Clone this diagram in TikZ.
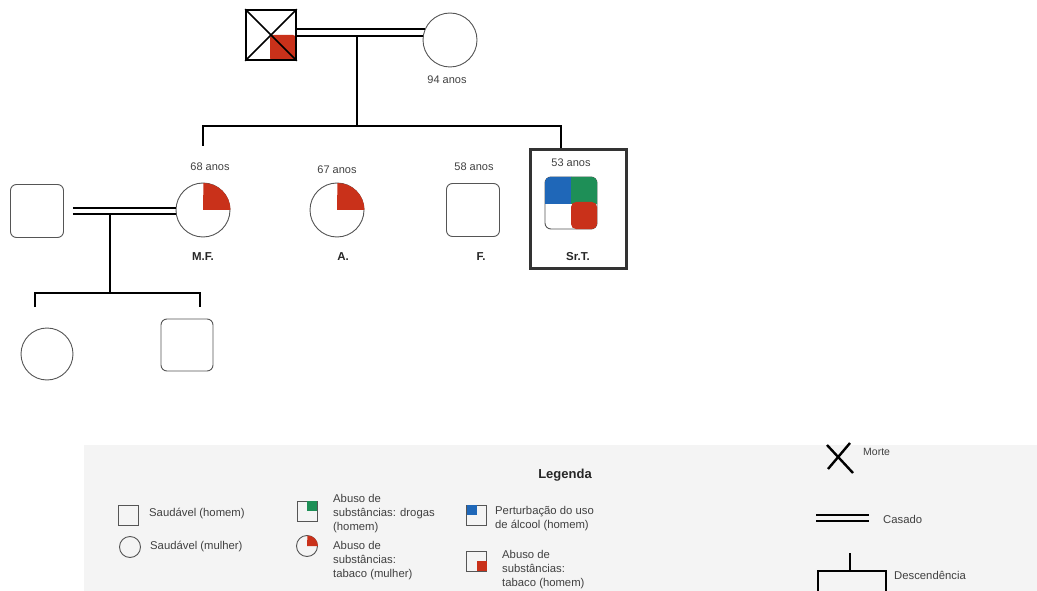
\documentclass[tikz,border=0pt]{standalone}
\usepackage{fontspec}
\setmainfont{Liberation Sans}
\usetikzlibrary{calc}
\definecolor{rd}{HTML}{C9311A}
\definecolor{bl}{HTML}{1F67B8}
\definecolor{gr}{HTML}{1E8F57}
\definecolor{lg}{HTML}{F4F4F4}
\definecolor{ol}{HTML}{555555}
\definecolor{tx}{HTML}{404040}
\begin{document}
\begin{tikzpicture}[x=1pt,y=-1pt,
  male/.style={draw=ol,line width=0.9pt,rounded corners=6pt,minimum size=53pt,inner sep=0pt},
  female/.style={circle,draw=ol,line width=0.9pt,minimum size=54pt,inner sep=0pt},
  age/.style={font=\fontsize{11}{13}\selectfont,text=tx},
  pname/.style={font=\bfseries\fontsize{11.5}{13}\selectfont,text=black!85},
  bond/.style={line width=2pt},
  desc/.style={line width=2pt},
  thin/.style={line width=1.2pt},
  leg/.style={font=\fontsize{11.3}{14}\selectfont,text=tx,align=left,anchor=west,inner sep=0pt},
  lsq/.style={draw=ol,line width=0.9pt,minimum size=20pt,inner sep=0pt},
  lci/.style={circle,draw=ol,line width=0.9pt,minimum size=21pt,inner sep=0pt},
]
\useasboundingbox (0,0) rectangle (1037,591);

% ---------- grandparents ----------
\fill[rd,rounded corners=3pt] (270,35) rectangle (296,61);
\node[draw=black,line width=1.6pt,minimum size=50pt,inner sep=0pt] (gf) at (271,35) {};
\draw[line width=1.6pt] (gf.north west) -- (gf.south east);
\draw[line width=1.6pt] (gf.north east) -- (gf.south west);
\node[female] (gm) at (450,40) {};
\node[age] (gmage) at (447,80) {94 anos};
\draw[bond] (gf.east |- gm.156) -- (gm.156);
\draw[bond] (gf.east |- gm.171) -- (gm.171);
\coordinate (gd) at (357,36);
\coordinate (sib) at (357,126);
\draw[desc] (gd) -- (sib);

% ---------- children ----------
\node[female] (mf) at (203,210) {};
\fill[rd] (mf.center) -- (mf.east) arc[start angle=0,end angle=90,radius=27pt] -- cycle;
\node[age] at (210,167) {68 anos};
\node[pname] (mfn) at (203,257) {M.F.};

\node[female] (a) at (337,210) {};
\fill[rd] (a.center) -- (a.east) arc[start angle=0,end angle=90,radius=27pt] -- cycle;
\node[age] at (337,170) {67 anos};
\node[pname] (an) at (343,257) {A.};

\node[male] (f) at (473,210) {};
\node[age] at (474,167) {58 anos};
\node[pname] (fn) at (481,257) {F.};

\node[male,minimum size=52pt] (srt) at (571,203) {};
\fill[bl] (545,204) -- (545,182) arc[start angle=180,end angle=90,radius=5pt] -- (571.5,177) -- (571.5,204) -- cycle;
\fill[gr] (571,177) -- (592,177) arc[start angle=90,end angle=0,radius=5pt] -- (597,204) -- (571,204) -- cycle;
\fill[rd,rounded corners=5pt] (571,202) rectangle (597,229);
\node[age] at (571,163) {53 anos};
\node[pname] (srtn) at (578,257) {Sr.T.};
\node[draw=black!80,line width=3pt,minimum width=96pt,minimum height=119pt,inner sep=0pt] (frame) at (578.5,209) {};

\coordinate (dl) at (203,146);
\coordinate (dr) at (561,126);
\draw[desc] (dl) -- (dl |- sib) -- (dr) -- (frame.north -| dr);

% ---------- M.F. family ----------
\node[male] (sp) at (37,211) {};
\draw[bond] ([xshift=9pt,yshift=3pt]sp.east) -- ([yshift=2pt]mf.west);
\draw[bond] ([xshift=9pt,yshift=-3pt]sp.east) -- ([yshift=-4pt]mf.west);
\coordinate (md) at (110,214);
\coordinate (mh) at (110,293);
\draw[desc] (md) -- (mh);
\node[female,minimum size=52pt] (c1) at (47,354) {};
\node[male,minimum size=52pt] (c2) at (187,345) {};
\coordinate (c1d) at (35,307);
\coordinate (c2d) at (200,307);
\draw[thin] (c1d) -- (c1d |- mh) -- (c2d |- mh) -- (c2d);

% ---------- legend ----------
\node[fill=lg,minimum width=953pt,minimum height=146pt,anchor=north west,inner sep=0pt] (legbox) at (84,445) {};
\node[font=\bfseries\fontsize{13}{15}\selectfont,text=black!85] (legt) at (565,475) {Legenda};

\node[lsq] (l1) at (128.5,515.5) {};
\node[leg] at (149,514) {Saudável (homem)};
\node[lci] (l2) at (130,547) {};
\node[leg] at (150,547) {Saudável (mulher)};

\node[lsq] (l3) at (307,511) {};
\fill[gr] (307,501) rectangle (317,511);
\node[leg] at (333,514) {Abuso de\\substâncias: drogas\\(homem)};
\node[lci] (l4) at (307,546) {};
\fill[rd] (l4.center) -- (l4.east) arc[start angle=0,end angle=90,radius=10.5pt] -- cycle;
\node[leg] at (333,561) {Abuso de\\substâncias:\\tabaco (mulher)};

\node[lsq] (l5) at (476.5,515) {};
\fill[bl] (466.5,505) rectangle (477,515);
\node[leg] at (495,519) {Perturbação do uso\\de álcool (homem)};
\node[lsq] (l6) at (476.5,561) {};
\fill[rd] (477,561) rectangle (486.5,571);
\node[leg] at (502,570) {Abuso de\\substâncias:\\tabaco (homem)};

\coordinate (x1) at (827,445);
\coordinate (x2) at (853,473);
\coordinate (x3) at (850,443);
\coordinate (x4) at (828,469);
\draw[line width=2.4pt] (x1) -- (x2);
\draw[line width=2.4pt] (x3) -- (x4);
\node[leg,font=\fontsize{10.5}{12}\selectfont] at (863,452) {Morte};

\coordinate (k1) at (816,515);
\coordinate (k2) at (869,515);
\coordinate (k3) at (816,521);
\coordinate (k4) at (869,521);
\draw[bond] (k1) -- (k2);
\draw[bond] (k3) -- (k4);
\node[leg] at (883,519) {Casado};

\coordinate (d0) at (850,553);
\coordinate (d1) at (850,571);
\coordinate (dL) at (818,591);
\coordinate (dR) at (886,591);
\draw[line width=2.2pt] (d0) -- (d1);
\draw[line width=2.2pt] (dL) -- (dL |- d1) -- (dR |- d1) -- (dR);
\node[leg] at (894,575) {Descendência};
\end{tikzpicture}
\end{document}
